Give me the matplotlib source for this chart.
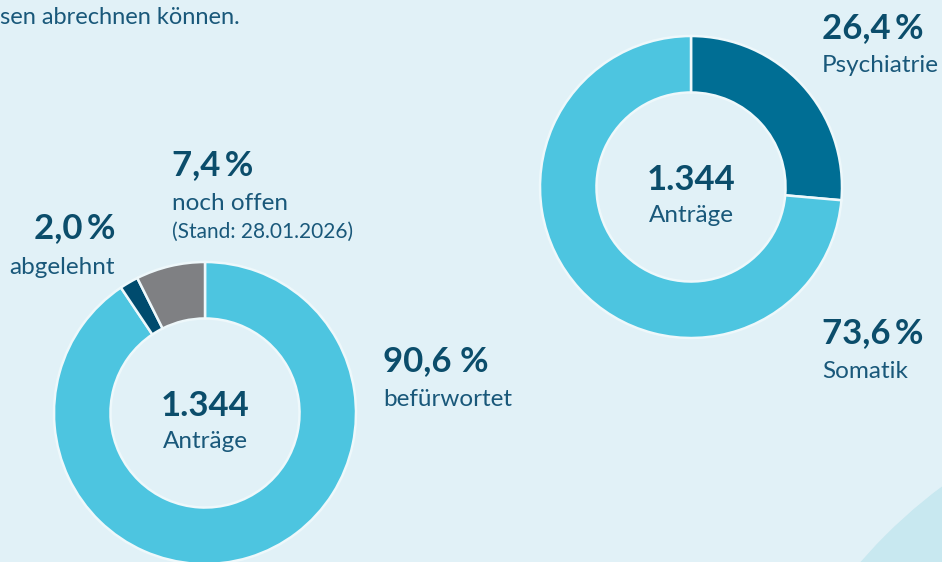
import matplotlib.pyplot as plt
from matplotlib.patches import Circle

# data
left_values = [90.6, 2.0, 7.4]
left_labels = ['befürwortet', 'abgelehnt', 'noch offen']
right_values = [26.4, 73.6]
right_labels = ['Psychiatrie', 'Somatik']
total = '1.344'

bg = '#e1f1f7'
light = '#4dc5e0'
dark_text = '#0b4d6b'
reg_text = '#19587a'

plt.rcParams['font.family'] = ['Lato', 'DejaVu Sans']

W, H = 942, 562
fig = plt.figure(figsize=(W / 100, H / 100), dpi=100, facecolor=bg)
ax = fig.add_axes([0, 0, 1, 1])
ax.set_facecolor(bg)

def Y(y):
    # pixel-from-top -> data y, small offset so text sits like the reference
    return H - y - 3

# decorative arc bottom right
ax.add_patch(Circle((1250, H - 900), 515, color='#c8e8f0', zorder=0))

R = 151
ring = dict(width=R * 0.374, edgecolor='#eef8fb', linewidth=1.8)

ax.pie(left_values, colors=[light, '#004b6e', '#7f8083'], startangle=90,
       counterclock=False, center=(205, H - 413), radius=R, frame=True,
       wedgeprops=ring)
ax.pie(right_values, colors=['#006e94', light], startangle=90,
       counterclock=False, center=(691, H - 187), radius=R, frame=True,
       wedgeprops=ring)

ax.set_xlim(0, W)
ax.set_ylim(0, H)
ax.set_aspect('equal')
ax.axis('off')

def pct(v, sep='\u2009'):
    return f'{v:.1f}'.replace('.', ',') + sep + '%'

big = 25
lab = 17.5

# center labels
for cx, cy in [(205, 413), (691, 187)]:
    ax.text(cx, Y(cy - 10), total, ha='center', va='center', fontsize=big,
            fontweight='bold', color=dark_text)
    ax.text(cx, Y(cy + 25), 'Anträge', ha='center', va='center', fontsize=lab,
            color=reg_text)

# right donut labels
ax.text(822, Y(25), pct(right_values[0]), ha='left', va='center', fontsize=big,
        fontweight='bold', color=dark_text)
ax.text(822, Y(63), right_labels[0], ha='left', va='center', fontsize=lab, color=reg_text)
ax.text(822, Y(330), pct(right_values[1]), ha='left', va='center', fontsize=big,
        fontweight='bold', color=dark_text)
ax.text(822, Y(368), right_labels[1], ha='left', va='center', fontsize=lab, color=reg_text)

# left donut labels
ax.text(383, Y(358), pct(left_values[0], ' '), ha='left', va='center', fontsize=big,
        fontweight='bold', color=dark_text)
ax.text(383, Y(397), left_labels[0], ha='left', va='center', fontsize=lab, color=reg_text)

ax.text(115, Y(225), pct(left_values[1]), ha='right', va='center', fontsize=big,
        fontweight='bold', color=dark_text)
ax.text(115, Y(264), left_labels[1], ha='right', va='center', fontsize=lab, color=reg_text)

ax.text(172, Y(162), pct(left_values[2]), ha='left', va='center', fontsize=big,
        fontweight='bold', color=dark_text)
ax.text(172, Y(201), left_labels[2], ha='left', va='center', fontsize=lab, color=reg_text)
ax.text(172, Y(229), '(Stand: 28.01.2026)', ha='left', va='center', fontsize=15,
        color=reg_text)

# cut-off intro text
ax.text(0, Y(14), 'sen abrechnen können.', ha='left', va='center', fontsize=17,
        color=reg_text)

fig.savefig('out.png', dpi=100, facecolor=bg)
